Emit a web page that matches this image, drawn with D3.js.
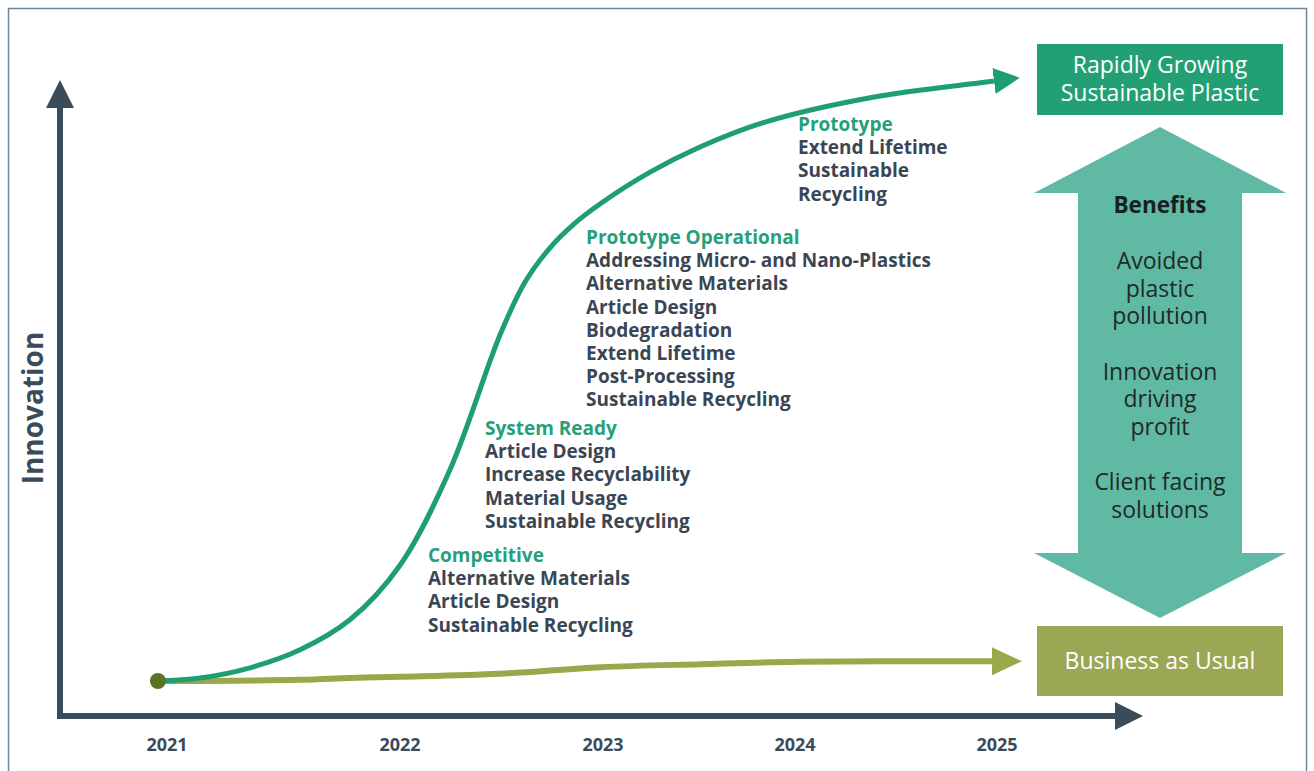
<!DOCTYPE html>
<html>
<head>
<meta charset="utf-8">
<script src="https://cdn.jsdelivr.net/npm/d3@7"></script>
<style>
  html, body { margin: 0; padding: 0; background: #ffffff; }
  svg { display: block; }
  text { font-family: "Open Sans", "Noto Sans", sans-serif; }
</style>
</head>
<body>
<svg id="chart" width="1314" height="771"></svg>
<script>
// ---- data ----------------------------------------------------------------
const years = [2021, 2022, 2023, 2024, 2025];
const yearLabels = ["2021", "2022", "2023", "2024", "2025"];

// innovation index (0 = today, 100 = top of the growth curve)
const sustainableYears = [2020.961, 2021.142, 2021.356, 2021.571, 2021.785, 2022.000, 2022.246, 2022.493, 2022.616, 2022.739, 2022.862, 2022.985, 2023.245, 2023.505, 2023.849, 2024.386, 2024.916, 2024.985];
const sustainableIndex = [0, 0.5, 2.2, 5.2, 10.2, 19.3, 35.2, 57.7, 66.5, 72.2, 76.3, 79.5, 84.8, 89.0, 93.2, 97.3, 99.7, 100];

const usualYears = [2020.961, 2021.571, 2021.785, 2022.000, 2022.490, 2022.990, 2023.510, 2024.020, 2024.975];
const usualIndex = [0, 0.2, 0.5, 0.7, 1.2, 2.3, 2.8, 3.2, 3.3];

const stageNames = ["Competitive", "System Ready", "Prototype Operational", "Prototype"];
const stageItems = [
  ["Alternative Materials", "Article Design", "Sustainable Recycling"],
  ["Article Design", "Increase Recyclability", "Material Usage", "Sustainable Recycling"],
  ["Addressing Micro- and Nano-Plastics", "Alternative Materials", "Article Design", "Biodegradation", "Extend Lifetime", "Post-Processing", "Sustainable Recycling"],
  ["Extend Lifetime", "Sustainable", "Recycling"]
];

const outcomeTop = ["Rapidly Growing", "Sustainable Plastic"];
const outcomeBottom = ["Business as Usual"];
const benefitsTitle = "Benefits";
const benefitGroups = [
  ["Avoided", "plastic", "pollution"],
  ["Innovation", "driving", "profit"],
  ["Client facing", "solutions"]
];
const yAxisTitle = "Innovation";

// ---- layout ----------------------------------------------------------------
const svg = d3.select("#chart");
const C = {
  axis: "#3a4c59",
  green: "#1d9f70",
  greenBox: "#22a074",
  teal: "#60b9a3",
  olive: "#9aa84c",
  oliveBox: "#9ba754",
  dot: "#5b7421",
  head: "#25a079",
  body: "#3a4654",
  frame: "#6d8696"
};

// timeline positions of the year ticks are uneven, so the scale is piecewise
const x = d3.scaleLinear().domain(years).range([167, 400, 603, 795, 997]);
const y = d3.scaleLinear().domain([0, 100]).range([681, 81]);

// outer frame
svg.append("rect")
  .attr("x", 8.5).attr("y", 8.5).attr("width", 1298).attr("height", 775)
  .attr("fill", "none").attr("stroke", C.frame).attr("stroke-width", 1.5);

// arrowhead markers
const defs = svg.append("defs");
function marker(id, color, len, half) {
  defs.append("marker")
    .attr("id", id)
    .attr("markerUnits", "userSpaceOnUse")
    .attr("markerWidth", len + 2).attr("markerHeight", half * 2 + 2)
    .attr("viewBox", `0 ${-half - 1} ${len + 2} ${half * 2 + 2}`)
    .attr("refX", 0).attr("refY", 0)
    .attr("orient", "auto")
    .append("path")
    .attr("d", `M0,${-half}L${len},0L0,${half}Z`)
    .attr("fill", color);
}
marker("headGreen", C.green, 26, 13);
marker("headOlive", C.olive, 30, 14);
marker("headAxis", C.axis, 28, 14);

// axes
const axisX0 = 60, axisY0 = 716;
svg.append("line")
  .attr("x1", axisX0).attr("y1", axisY0 + 3).attr("x2", axisX0).attr("y2", 108)
  .attr("stroke", C.axis).attr("stroke-width", 6)
  .attr("marker-end", "url(#headAxis)");
svg.append("line")
  .attr("x1", axisX0 - 3).attr("y1", axisY0).attr("x2", 1115).attr("y2", axisY0)
  .attr("stroke", C.axis).attr("stroke-width", 6)
  .attr("marker-end", "url(#headAxis)");

// year labels
svg.append("g").selectAll("text")
  .data(years)
  .join("text")
  .attr("x", d => x(d))
  .attr("y", 751)
  .attr("text-anchor", "middle")
  .attr("font-size", 18)
  .attr("font-weight", 700)
  .attr("fill", C.axis)
  .text((d, i) => yearLabels[i]);

// y axis title
svg.append("text")
  .attr("transform", "translate(43,408) rotate(-90)")
  .attr("text-anchor", "middle")
  .attr("font-size", 28)
  .attr("font-weight", 700)
  .attr("fill", C.axis)
  .text(yAxisTitle);

// curves
const line = d3.line()
  .x(d => x(d[0]))
  .y(d => y(d[1]))
  .curve(d3.curveCatmullRom.alpha(0.5));

svg.append("path")
  .datum(d3.zip(usualYears, usualIndex))
  .attr("d", line)
  .attr("fill", "none")
  .attr("stroke", C.olive)
  .attr("stroke-width", 6)
  .attr("marker-end", "url(#headOlive)");

svg.append("path")
  .datum(d3.zip(sustainableYears, sustainableIndex))
  .attr("d", line)
  .attr("fill", "none")
  .attr("stroke", C.green)
  .attr("stroke-width", 5)
  .attr("marker-end", "url(#headGreen)");

svg.append("circle")
  .attr("cx", x(sustainableYears[0]))
  .attr("cy", y(sustainableIndex[0]))
  .attr("r", 8)
  .attr("fill", C.dot);

// stage annotations
const stageAnchors = [[428, 562], [485, 435], [586, 244], [798, 131]];
const lineH = 23.2;
stageNames.forEach((name, i) => {
  const g = svg.append("g")
    .attr("transform", `translate(${stageAnchors[i][0]},${stageAnchors[i][1]})`);
  g.append("text")
    .attr("font-size", 19).attr("font-weight", 700)
    .attr("fill", C.head)
    .text(name);
  g.selectAll("text.item")
    .data(stageItems[i])
    .join("text")
    .attr("class", "item")
    .attr("y", (d, j) => (j + 1) * lineH)
    .attr("font-size", 19).attr("font-weight", 700)
    .attr("fill", C.body)
    .text(d => d);
});

// right-hand outcome boxes
const boxX = 1037, boxW = 246, boxCx = boxX + boxW / 2;
svg.append("rect")
  .attr("x", boxX).attr("y", 44).attr("width", boxW).attr("height", 71)
  .attr("fill", C.greenBox);
svg.append("g").selectAll("text")
  .data(outcomeTop)
  .join("text")
  .attr("x", boxCx)
  .attr("y", (d, i) => 73 + i * 28)
  .attr("text-anchor", "middle")
  .attr("font-size", 23)
  .attr("fill", "#ffffff")
  .text(d => d);

svg.append("rect")
  .attr("x", boxX).attr("y", 626).attr("width", boxW).attr("height", 70)
  .attr("fill", C.oliveBox);
svg.append("text")
  .attr("x", boxCx).attr("y", 669)
  .attr("text-anchor", "middle")
  .attr("font-size", 23)
  .attr("fill", "#ffffff")
  .text(outcomeBottom[0]);

// double-headed benefits arrow
const ax = boxCx, headHalf = 126, shaftHalf = 82;
const arrowTop = 127, headTop = 193, headBottom = 553, arrowBottom = 618;
const arrowPath = d3.path();
arrowPath.moveTo(ax, arrowTop);
arrowPath.lineTo(ax + headHalf, headTop);
arrowPath.lineTo(ax + shaftHalf, headTop);
arrowPath.lineTo(ax + shaftHalf, headBottom);
arrowPath.lineTo(ax + headHalf, headBottom);
arrowPath.lineTo(ax, arrowBottom);
arrowPath.lineTo(ax - headHalf, headBottom);
arrowPath.lineTo(ax - shaftHalf, headBottom);
arrowPath.lineTo(ax - shaftHalf, headTop);
arrowPath.lineTo(ax - headHalf, headTop);
arrowPath.closePath();
svg.append("path").attr("d", arrowPath.toString()).attr("fill", C.teal);

svg.append("text")
  .attr("x", ax).attr("y", 213)
  .attr("text-anchor", "middle")
  .attr("font-size", 22.5).attr("font-weight", 700)
  .attr("fill", "#15201f")
  .text(benefitsTitle);

benefitGroups.forEach((grp, gi) => {
  svg.append("g").selectAll("text")
    .data(grp)
    .join("text")
    .attr("x", ax)
    .attr("y", (d, i) => 269 + gi * 110.5 + i * 27.5)
    .attr("text-anchor", "middle")
    .attr("font-size", 23)
    .attr("fill", "#1f2a29")
    .text(d => d);
});
</script>
</body>
</html>
